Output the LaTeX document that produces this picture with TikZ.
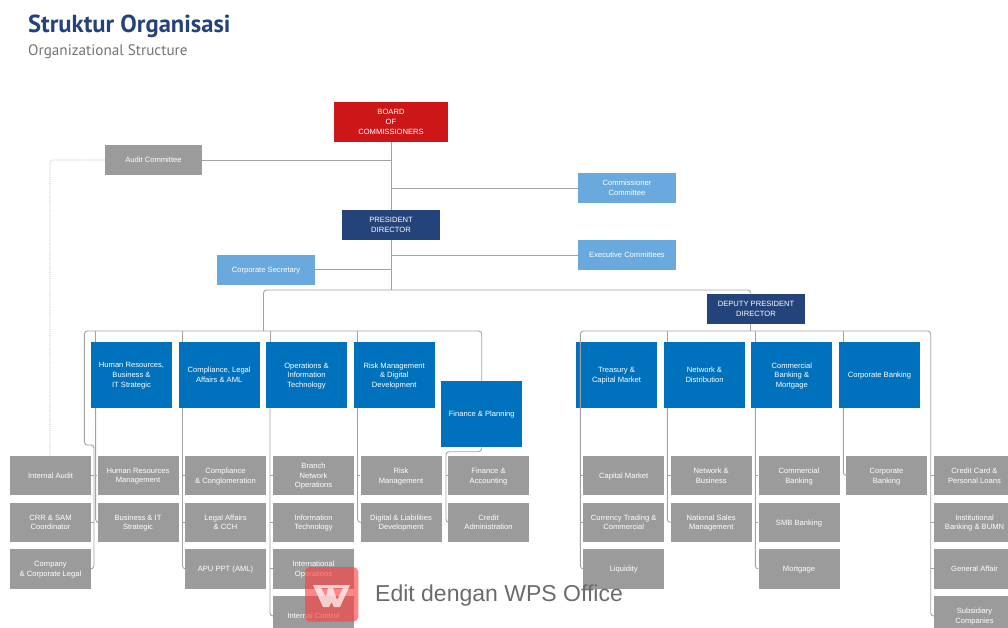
\documentclass[tikz,border=0pt]{standalone}
\usepackage{fontspec}
\setmainfont{Liberation Sans}
\newfontfamily\titlefont{PT Sans}
\usetikzlibrary{positioning}
\definecolor{boardred}{HTML}{CC1618}
\definecolor{navy}{HTML}{24437A}
\definecolor{deptblue}{HTML}{0071BC}
\definecolor{skyblue}{HTML}{69A9DE}
\definecolor{unitgray}{HTML}{9B9B9B}
\definecolor{wmred}{HTML}{FF3C3C}
\tikzset{
orgbox/.style={rectangle, inner sep=0pt, text=white, align=center, text depth=-3pt, font=\fontsize{7.6}{9.7}\selectfont},
topbox/.style={orgbox, fill=#1, minimum width=97.5, minimum height=30},
dept/.style={orgbox, fill=deptblue, minimum width=81, minimum height=66},
unitbox/.style={orgbox, fill=unitgray, minimum width=81, minimum height=39.5},
conn/.style={draw=black!36, line width=0.9},
elbow/.style={conn, rounded corners=3},
}
\begin{document}
\begin{tikzpicture}[x=1pt,y=-1pt,line join=round]
\useasboundingbox (0,0) rectangle (1008,627);
\clip (0,0) rectangle (1008,627);
\def\rowa{475.5} \def\rowb{522.3} \def\rowc{568.8} \def\rowd{616}
\def\depty{375}
% title
\node[anchor=west, inner sep=0, text=navy, font=\titlefont\fontsize{24.6}{28}\selectfont\bfseries] (title) at (28,26) {Struktur Organisasi};
\node[anchor=west, inner sep=0, text=black!55, font=\titlefont\fontsize{15.2}{18}\selectfont] (subtitle) at (28,51.5) {Organizational Structure};
% top of the chart
\node[orgbox, fill=boardred, minimum width=114.5, minimum height=40] (board) at (391,122) {BOARD\\OF\\COMMISSIONERS};
\node[topbox=unitgray] (audit) at (153.5,160) {Audit Committee};
\node[topbox=skyblue] (commcom) at (627,188) {Commissioner\\Committee};
\node[topbox=navy] (pres) at (391,225) {PRESIDENT\\DIRECTOR};
\node[topbox=skyblue] (execom) at (627,255) {Executive Committees};
\node[topbox=skyblue] (corpsec) at (266,269.5) {Corporate Secretary};
\node[topbox=navy] (deputy) at (756,308.5) {DEPUTY PRESIDENT\\DIRECTOR};
% directors, left group
\node[dept] (hrdir) at (131.5,\depty) {Human Resources,\\Business \&\\IT Strategic};
\node[dept] (compdir) at (219.2,\depty) {Compliance, Legal\\Affairs \& AML};
\node[dept] (opsdir) at (306.5,\depty) {Operations \&\\Information\\Technology};
\node[dept] (riskdir) at (394.2,\depty) {Risk Management\\\& Digital\\Development};
\node[dept] (findir) at (481.7,414.2) {Finance \& Planning};
% directors, right group
\node[dept] (treadir) at (616.5,\depty) {Treasury \&\\Capital Market};
\node[dept] (netdir) at (704.5,\depty) {Network \&\\Distribution};
\node[dept] (combdir) at (791.8,\depty) {Commercial\\Banking \&\\Mortgage};
\node[dept] (corpdir) at (879.5,\depty) {Corporate Banking};
% units
\node[unitbox] (ia) at (50.5,\rowa) {Internal Audit};
\node[unitbox] (crr) at (50.5,\rowb) {CRR \& SAM\\Coordinator};
\node[unitbox] (legal) at (50.5,\rowc) {Company\\\& Corporate Legal};
\node[unitbox] (hrm) at (138,\rowa) {Human Resources\\Management};
\node[unitbox] (bit) at (138,\rowb) {Business \& IT\\Strategic};
\node[unitbox] (cong) at (225.5,\rowa) {Compliance\\\& Conglomeration};
\node[unitbox] (lac) at (225.5,\rowb) {Legal Affairs\\\& CCH};
\node[unitbox] (apu) at (225.5,\rowc) {APU PPT (AML)};
\node[unitbox] (branch) at (313.5,\rowa) {Branch\\Network\\Operations};
\node[unitbox] (info) at (313.5,\rowb) {Information\\Technology};
\node[unitbox] (intl) at (313.5,\rowc) {International\\Operations};
\node[unitbox] (ctrl) at (313.5,\rowd) {Internal Control};
\node[unitbox] (risk) at (401,\rowa) {Risk\\Management};
\node[unitbox] (digi) at (401,\rowb) {Digital \& Liabilities\\Development};
\node[unitbox] (fina) at (488.5,\rowa) {Finance \&\\Accounting};
\node[unitbox] (cred) at (488.5,\rowb) {Credit\\Administration};
\node[unitbox] (capm) at (623.7,\rowa) {Capital Market};
\node[unitbox] (curr) at (623.7,\rowb) {Currency Trading \&\\Commercial};
\node[unitbox] (liq) at (623.7,\rowc) {Liquidity};
\node[unitbox] (netb) at (711.2,\rowa) {Network \&\\Business};
\node[unitbox] (nsm) at (711.2,\rowb) {National Sales\\Management};
\node[unitbox] (comb) at (799,\rowa) {Commercial\\Banking};
\node[unitbox] (smb) at (799,\rowb) {SMB Banking};
\node[unitbox] (mort) at (799,\rowc) {Mortgage};
\node[unitbox] (corpb) at (886.5,\rowa) {Corporate\\Banking};
\node[unitbox] (card) at (974.5,\rowa) {Credit Card \&\\Personal Loans};
\node[unitbox] (inst) at (974.5,\rowb) {Institutional\\Banking \& BUMN};
\node[unitbox] (gen) at (974.5,\rowc) {General Affair};
\node[unitbox] (subs) at (974.5,\rowd) {Subsidiary\\Companies};
% junctions
\coordinate (leftmid) at (263.5,331);
\coordinate (rightmid) at (750.7,331);
\coordinate (lcorner) at (84.4,331);
\coordinate (kink) at (84.4,445);
\coordinate (iaspine) at (94,445);
\coordinate (hrspine) at (95.6,331);
\coordinate (compspine) at (182.5,331);
\coordinate (opsspine) at (270,331);
\coordinate (riskspine) at (357.5,331);
\coordinate (treaspine) at (580.3,331);
\coordinate (netspine) at (667.3,331);
\coordinate (combspine) at (755.3,331);
\coordinate (corpspine) at (843.3,331);
\coordinate (subspine) at (930.7,331);
\coordinate (split) at (750.7,290);
\coordinate (finjog) at (446,451.7);
% top connectors
\draw[conn] (board) -- (pres);
\draw[conn] (pres) -- (pres |- split);
\draw[conn] (audit) -- (audit -| board);
\draw[conn] (commcom.west) -- (commcom.west -| board);
\draw[conn] (execom.west) -- (execom.west -| board);
\draw[conn] (corpsec) -- (corpsec -| board);
\draw[elbow] (leftmid) |- (split) -- (split |- deputy.north);
\draw[conn] (rightmid |- deputy.south) -- (rightmid);
\draw[elbow, densely dotted, draw=black!30, line width=0.6] (audit.west) -| (50,455.7);
% left group
\draw[elbow] (findir.north) |- (lcorner) -- (kink) -| (iaspine |- legal.east) -- (legal.east);
\foreach \unitname in {ia,crr} \draw[conn] (\unitname.east) -- (\unitname.east -| iaspine);
\foreach \spine/\dirname in {hrspine/hrdir,compspine/compdir,opsspine/opsdir,riskspine/riskdir} \draw[conn] (\spine) -- (\spine |- \dirname.north);
\draw[elbow] (hrspine |- hrdir.south) |- (bit.west);
\draw[conn] (hrspine |- hrm.west) -- (hrm.west);
\draw[elbow] (compspine |- compdir.south) |- (apu.west);
\foreach \unitname in {cong,lac} \draw[conn] (compspine |- \unitname.west) -- (\unitname.west);
\draw[elbow] (opsspine |- opsdir.south) |- (ctrl.west);
\foreach \unitname in {branch,info,intl} \draw[conn] (opsspine |- \unitname.west) -- (\unitname.west);
\draw[elbow] (riskspine |- riskdir.south) |- (digi.west);
\draw[conn] (riskspine |- risk.west) -- (risk.west);
\draw[elbow] (findir.south) |- (finjog) |- (cred.west);
\draw[conn] (finjog |- fina.west) -- (fina.west);
% right group
\draw[elbow] (liq.west) -| (treaspine) -- (subspine) |- (subs.west);
\foreach \unitname in {capm,curr} \draw[conn] (treaspine |- \unitname.west) -- (\unitname.west);
\foreach \unitname in {card,inst,gen} \draw[conn] (subspine |- \unitname.west) -- (\unitname.west);
\foreach \spine/\dirname in {netspine/netdir,combspine/combdir,corpspine/corpdir} \draw[conn] (\spine) -- (\spine |- \dirname.north);
\draw[elbow] (netspine |- netdir.south) |- (nsm.west);
\draw[conn] (netspine |- netb.west) -- (netb.west);
\draw[elbow] (combspine |- combdir.south) |- (mort.west);
\foreach \unitname in {comb,smb} \draw[conn] (combspine |- \unitname.west) -- (\unitname.west);
\draw[elbow] (corpspine |- corpdir.south) |- (corpb.west);
% watermark
\fill[wmred, fill opacity=0.62, rounded corners=5] (305,567) rectangle (358.3,621.7);
\fill[white, fill opacity=0.7, even odd rule] (313,585) -- (350,585) -- (340,607) -- (334,607) -- (331.5,602) -- (329,607) -- (323,607) -- cycle (321,588) -- (328,588) -- (326,597) -- cycle (333,588) -- (343,588) -- (337,600) -- cycle;
\node[anchor=west, inner sep=0, text=black!58, font=\fontsize{23}{28}\selectfont] (wmtext) at (375,596) {Edit dengan WPS Office};
\end{tikzpicture}
\end{document}
